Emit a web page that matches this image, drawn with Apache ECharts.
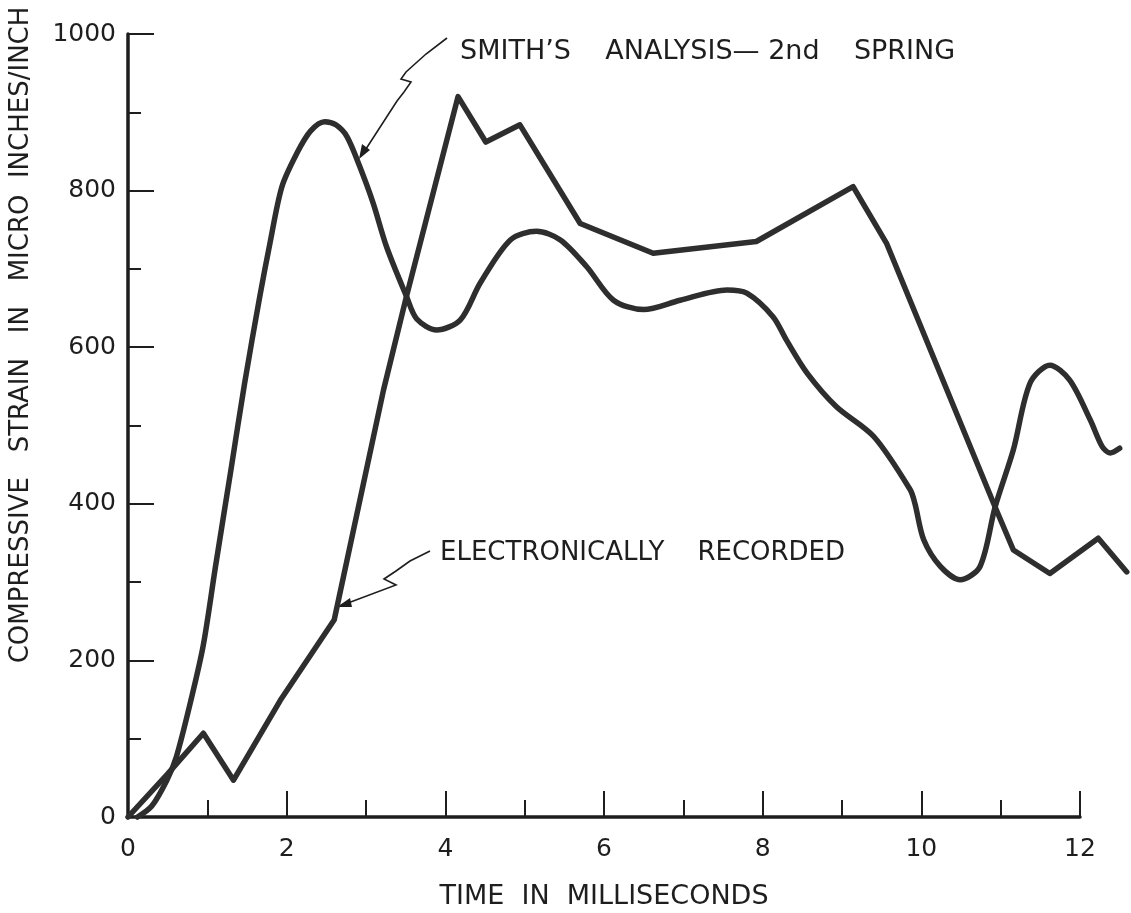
<!DOCTYPE html>
<html>
<head>
<meta charset="utf-8">
<script src="https://cdn.jsdelivr.net/npm/echarts@6/dist/echarts.min.js"></script>
<style>
  html, body { margin: 0; padding: 0; background: #fff; }
  #chart { width: 1131px; height: 913px; }
</style>
</head>
<body>
<div id="chart"></div>
<script>
// Time (ms) / strain (micro in/in) pairs for each trace
const smithAnalysis = [
  [0.12, 0], [0.3, 14], [0.49, 47], [0.61, 77], [0.8, 152], [0.95, 220],
  [1.1, 318], [1.3, 445], [1.47, 554], [1.66, 664], [1.79, 733], [1.94, 805],
  [2.13, 848], [2.3, 876], [2.48, 888], [2.62, 884], [2.76, 869], [2.92, 831],
  [3.09, 784], [3.26, 728], [3.51, 665], [3.64, 636], [3.89, 622], [4.19, 635],
  [4.44, 682], [4.82, 737], [5.15, 748], [5.45, 737], [5.78, 703], [6.12, 660],
  [6.5, 648], [6.96, 660], [7.55, 673], [7.8, 669], [8.13, 639], [8.3, 609],
  [8.56, 567], [8.93, 524], [9.4, 486], [9.86, 418], [9.92, 400], [10.03, 354],
  [10.24, 320], [10.49, 303], [10.74, 320], [10.93, 396], [11.16, 469],
  [11.37, 554], [11.62, 577], [11.87, 558], [12.13, 507], [12.28, 473],
  [12.38, 465], [12.5, 471]
];
const electronicallyRecorded = [
  [0, 0], [0.5, 55], [0.95, 107], [1.33, 47], [1.92, 149], [2.6, 252],
  [3.22, 545], [3.51, 665], [4.16, 920], [4.51, 862], [4.94, 884], [5.7, 758],
  [6.62, 720], [7.92, 735], [9.14, 805], [9.56, 733], [10.93, 396], [11.16, 341],
  [11.62, 311], [12.23, 356], [12.59, 313]
];
const xTicks = [0, 2, 4, 6, 8, 10, 12];
const yTicks = [0, 200, 400, 600, 800, 1000];
// the traces run a little past the last labelled time
const X_DATA_MAX = 12.65;

const xAxisTitle = 'TIME  IN  MILLISECONDS';
const yAxisTitle = 'COMPRESSIVE   STRAIN   IN   MICRO  INCHES/INCH';
const smithLabel = 'SMITH\u2019S    ANALYSIS\u2014 2nd    SPRING';
const electronicLabel = 'ELECTRONICALLY    RECORDED';

const FONT = 'DejaVu Sans';
const INK = '#1e1e1e';
const TRACE = '#2e2e2e';

const W = 1131, GRID_LEFT = 128, GRID_RIGHT = 51, GRID_TOP = 34, GRID_BOTTOM = 96;
const X_MAX = xTicks[xTicks.length - 1];
const plotWidth = W - GRID_LEFT - GRID_RIGHT;
const dataGridRight = W - (GRID_LEFT + plotWidth * X_DATA_MAX / X_MAX);

const chart = echarts.init(document.getElementById('chart'), null, { renderer: 'canvas' });

const axisCommon = {
  type: 'value',
  splitLine: { show: false },
  axisLine: { show: true, onZero: false, lineStyle: { color: INK, width: 3.5 } },
  axisTick: { show: true, inside: true, length: 26, lineStyle: { color: INK, width: 2 } },
  minorSplitLine: { show: false },
  axisLabel: { color: INK, fontFamily: FONT, fontSize: 25, formatter: v => String(v) }
};

const leaderStyle = { stroke: INK, lineWidth: 1.6, fill: null };

chart.setOption({
  animation: false,
  backgroundColor: '#ffffff',
  grid: [
    { left: GRID_LEFT, right: GRID_RIGHT, top: GRID_TOP, bottom: GRID_BOTTOM, containLabel: false, outerBoundsMode: 'none' },
    { left: GRID_LEFT, right: dataGridRight, top: GRID_TOP, bottom: GRID_BOTTOM, containLabel: false, outerBoundsMode: 'none' }
  ],
  xAxis: [
    Object.assign({}, axisCommon, {
      gridIndex: 0,
      min: xTicks[0], max: X_MAX, interval: 2,
      minorTick: { show: true, splitNumber: 2, length: 17, lineStyle: { color: INK, width: 2 } },
      axisLabel: Object.assign({}, axisCommon.axisLabel, { margin: 20 }),
      name: xAxisTitle,
      nameLocation: 'middle',
      nameGap: 66,
      nameTextStyle: { color: INK, fontFamily: FONT, fontSize: 27 }
    }),
    { type: 'value', gridIndex: 1, min: xTicks[0], max: X_DATA_MAX, show: false }
  ],
  yAxis: [
    Object.assign({}, axisCommon, {
      gridIndex: 0,
      min: yTicks[0], max: yTicks[yTicks.length - 1], interval: 200,
      minorTick: { show: true, splitNumber: 2, length: 13, lineStyle: { color: INK, width: 2 } },
      axisLabel: Object.assign({}, axisCommon.axisLabel, { margin: 12 })
    }),
    { type: 'value', gridIndex: 1, min: yTicks[0], max: yTicks[yTicks.length - 1], show: false }
  ],
  series: [
    {
      name: 'Smith analysis',
      type: 'line',
      xAxisIndex: 1, yAxisIndex: 1,
      data: smithAnalysis,
      smooth: 0.3,
      showSymbol: false,
      clip: false,
      lineStyle: { color: TRACE, width: 5.5, cap: 'round', join: 'round' }
    },
    {
      name: 'Electronically recorded',
      type: 'line',
      xAxisIndex: 1, yAxisIndex: 1,
      data: electronicallyRecorded,
      smooth: false,
      showSymbol: false,
      clip: false,
      lineStyle: { color: TRACE, width: 5.5, cap: 'round', join: 'round' }
    }
  ],
  graphic: [
    {
      type: 'text',
      x: 21, y: 335,
      rotation: Math.PI / 2,
      style: {
        text: yAxisTitle, fill: INK, font: '26px "' + FONT + '"',
        align: 'center', verticalAlign: 'middle'
      }
    },
    {
      type: 'text',
      x: 460, y: 52,
      style: {
        text: smithLabel, fill: INK, font: '27px "' + FONT + '"',
        align: 'left', verticalAlign: 'middle'
      }
    },
    {
      type: 'text',
      x: 440, y: 553,
      style: {
        text: electronicLabel, fill: INK, font: '26px "' + FONT + '"',
        align: 'left', verticalAlign: 'middle'
      }
    },
    // leader to the analytical curve
    {
      type: 'polyline',
      shape: { points: [[447, 38], [426, 54], [406, 72], [401, 79], [411, 82], [404, 92], [397, 101], [364, 152]] },
      style: leaderStyle
    },
    {
      type: 'polygon',
      shape: { points: [[359, 159], [362, 144], [370, 150]] },
      style: { fill: INK }
    },
    // leader to the recorded trace
    {
      type: 'polyline',
      shape: { points: [[430, 551], [410, 561], [396, 571], [384, 579], [396, 585], [348, 603]] },
      style: leaderStyle
    },
    {
      type: 'polygon',
      shape: { points: [[337, 607], [350, 598], [352, 607]] },
      style: { fill: INK }
    }
  ]
});
</script>
</body>
</html>
